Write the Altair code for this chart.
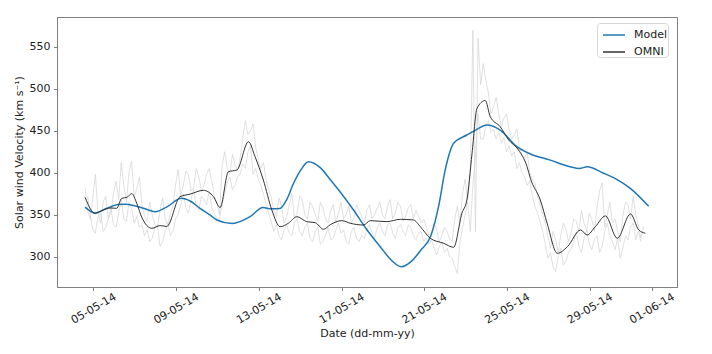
import altair as alt
import pandas as pd

# ---- data (x = day of May 2014, y = km/s) ----
model_day = [4.60, 5.08, 5.60, 6.21, 6.55, 6.94, 7.50, 7.99, 8.60, 9.25, 9.70, 10.16, 10.65,
             10.97, 11.72, 12.58, 13.20, 13.60, 14.03, 14.35, 14.68, 15.05, 15.40, 15.97,
             16.45, 17.00, 17.58, 18.20, 18.87, 19.40, 19.88, 20.40, 20.84, 21.32, 21.69,
             22.01, 22.42, 23.06, 23.50, 24.03, 24.67, 25.48, 26.13, 27.09, 28.06, 28.50,
             28.87, 29.67, 30.30, 30.96, 31.85]
model_val = [359, 352, 357, 362, 362.5, 361, 357, 353.6, 360, 369.5, 366, 357.6, 349.6,
             343.7, 339.5, 347.6, 358.5, 357, 357.5, 368, 387.4, 404, 413, 406,
             392, 375, 355.6, 333, 311.9, 296, 288, 295, 308, 325, 359.5,
             403, 435, 444.9, 451, 456.8, 450.8, 431, 422.3, 415, 407, 405,
             407, 399.3, 392, 381.4, 360]

omni_day = [4.60, 5.08, 5.48, 5.81, 6.13, 6.37, 6.62, 6.86, 7.10, 7.34, 7.83, 8.23, 8.55,
            9.19, 9.68, 10.32, 10.81, 11.13, 11.53, 11.94, 12.50, 12.82, 13.22, 13.63,
            14.03, 14.43, 14.84, 15.32, 15.73, 16.13, 16.45, 17.02, 17.42, 18.06, 18.39,
            19.19, 19.84, 20.48, 20.81, 21.29, 21.93, 22.42, 22.82, 23.06, 23.31, 23.55,
            23.95, 24.19, 24.67, 25.08, 25.56, 25.97, 26.13, 26.61, 26.94, 27.43, 27.92,
            28.56, 28.87, 29.27, 29.76, 30.33, 30.97, 31.37, 31.69]
omni_val = [370.7, 351.7, 355.6, 358, 357.6, 369.5, 370.7, 375, 363.6, 347, 333.8, 337, 336,
            371.4, 374.5, 379, 371.4, 358.5, 401.2, 403.2, 436.9, 419, 391.3, 355.6,
            335.7, 339.8, 347.6, 341.7, 340.5, 332.6, 338, 342.9, 339.8, 337.7, 342.9,
            341.7, 344.5, 343.7, 335.7, 321.9, 316, 311.2, 351.7, 367.5, 423, 476.7,
            486, 466.7, 454.8, 439, 427, 407.1, 393.3, 367.5, 339.8, 304, 311.9,
            331.8, 325.8, 335.7, 348.5, 321.9, 350.9, 331.8, 327.9]

# raw trace A: samples every 0.25 day from 4.6, plus in-between samples from 4.725
raw_a_start = 4.6
raw_a = [382, 345, 398, 340, 372, 352, 390, 412, 365, 414, 380, 362, 342, 350, 335, 370,
         338, 360, 404, 385, 398, 382, 395, 385, 405, 372, 350, 425, 398, 410, 418, 462,
         450, 430, 405, 392, 370, 348, 360, 348, 375, 352, 368, 345, 360, 342, 358, 340,
         362, 352, 345, 360, 345, 355, 340, 362, 350, 365, 345, 368, 352, 360, 348, 362,
         355, 340, 335, 328, 332, 325, 330, 318, 360, 375, 368, 570, 560, 530, 495, 478,
         470, 465, 452, 445, 430, 418, 400, 388, 362, 340, 310, 320, 325, 332, 328, 342,
         355, 330, 345, 358, 388, 350, 340, 330, 348, 362, 372, 338, 335]
raw_a_mid_start = 4.725
raw_a_mid = [355, 370,
             352, 365, 345, 375,
             368, 385, 400, 372,
             395, 348, 365, 338,
             355, 345, 352, 385,
             372, 402, 378, 405,
             378, 398, 390, 365,
             408, 405, 422, 402,
             440, 445, 458, 415,
             412, 380, 355, 370,
             340, 362, 345, 372,
             350, 365, 350, 365,
             345, 355, 340, 365,
             350, 340, 362, 348,
             355, 345, 358, 350,
             360, 345, 365, 342,
             358, 345, 348, 345,
             325, 340, 318, 335,
             322, 345, 340, 392,
             400, 330, 505, 510,
             470, 490, 455, 470,
             440, 452, 420, 425,
             392, 372, 350, 325,
             330, 305, 340, 318,
             345, 330, 340, 352,
             330, 378, 335, 365,
             345, 318, 365, 345,
             350, 322]

# raw trace B: samples every 0.25 day from 4.725, plus in-between samples from 4.85
raw_b_start = 4.725
raw_b = [372, 332, 348, 330, 345, 338, 352, 345, 365, 340, 335, 325, 318, 335, 312, 330,
         325, 345, 362, 358, 368, 360, 372, 362, 358, 345, 362, 388, 380, 395, 410, 425,
         398, 392, 375, 352, 330, 325, 332, 328, 340, 330, 335, 322, 330, 315, 325, 320,
         332, 328, 318, 330, 322, 325, 332, 328, 335, 330, 338, 328, 335, 330, 338, 325,
         328, 318, 315, 310, 312, 305, 300, 288, 318, 350, 330, 420, 440, 455, 448, 440,
         435, 425, 420, 405, 400, 385, 372, 352, 330, 298, 288, 300, 290, 305, 318, 312,
         322, 315, 320, 305, 330, 325, 308, 298, 325, 335, 320, 318]
raw_b_mid_start = 4.85
raw_b_mid = [350,
             328, 352, 335, 358,
             335, 368, 342, 358,
             348, 338, 332, 322,
             338, 318, 340, 330,
             350, 375, 352, 380,
             355, 368, 378, 352,
             345, 375, 395, 385,
             398, 405, 432, 405,
             385, 362, 342, 338,
             320, 338, 325, 345,
             325, 340, 318, 335,
             318, 335, 322, 340,
             332, 315, 335, 318,
             322, 338, 322, 340,
             325, 340, 322, 338,
             325, 335, 320, 330,
             322, 320, 302, 318,
             310, 298, 280, 335,
             365, 385, 470, 440,
             462, 452, 448, 442,
             432, 425, 412, 395,
             390, 360, 342, 315,
             305, 282, 310, 295,
             310, 330, 305, 332,
             308, 325, 312, 340,
             318, 322, 310, 320,
             340, 330]

x_ticks = [(5, 5), (5, 9), (5, 13), (5, 17), (5, 21), (5, 25), (5, 29), (6, 1)]

# ---- tables ----
base = pd.Timestamp("2014-05-01")


def to_dates(days):
    return [base + pd.to_timedelta(d - 1, unit="D") for d in days]


def grid(start, n):
    return [start + 0.25 * i for i in range(n)]


lines_df = pd.concat([
    pd.DataFrame({"date": to_dates(model_day), "v": model_val, "series": "Model"}),
    pd.DataFrame({"date": to_dates(omni_day), "v": omni_val, "series": "OMNI"}),
])
raw_df = pd.concat([
    pd.DataFrame({"date": to_dates(grid(raw_a_start, len(raw_a))), "v": raw_a, "trace": "a"}),
    pd.DataFrame({"date": to_dates(grid(raw_a_mid_start, len(raw_a_mid))), "v": raw_a_mid,
                  "trace": "a"}),
    pd.DataFrame({"date": to_dates(grid(raw_b_start, len(raw_b))), "v": raw_b, "trace": "b"}),
    pd.DataFrame({"date": to_dates(grid(raw_b_mid_start, len(raw_b_mid))), "v": raw_b_mid,
                  "trace": "b"}),
]).sort_values(["trace", "date"])

FONT = "DejaVu Sans"
x_scale = alt.Scale(domain=[alt.DateTime(year=2014, month=5, date=3, hours=5, minutes=51),
                            alt.DateTime(year=2014, month=6, date=2, hours=5, minutes=15)])
y_scale = alt.Scale(domain=[263.9, 585.4], nice=False, zero=False)

x_axis = alt.Axis(
    title="Date (dd-mm-yy)", format="%d-%m-%y", grid=False,
    values=[alt.DateTime(year=2014, month=m, date=d) for m, d in x_ticks],
    labelAngle=-30, labelAlign="center", labelBaseline="middle",
    labelPadding=18, tickSize=3.5, labelFlush=False, labelOverlap=False,
    titleY=46, titleBaseline="middle",
)
y_axis = alt.Axis(
    title="Solar wind Velocity (km s⁻¹)", values=[300, 350, 400, 450, 500, 550], grid=False,
    tickSize=3.5, labelPadding=3.5,
    titleX=-38, titleY=135, titleAngle=-90, titleAlign="center", titleBaseline="middle",
)

raw = alt.Chart(raw_df).mark_line(strokeWidth=0.7, color="#d2d2d2").encode(
    x=alt.X("date:T", scale=x_scale, axis=x_axis),
    y=alt.Y("v:Q", scale=y_scale, axis=y_axis),
    detail="trace:N",
)

main = alt.Chart(lines_df).mark_line(interpolate="monotone").encode(
    x=alt.X("date:T", scale=x_scale),
    y=alt.Y("v:Q", scale=y_scale),
    color=alt.Color(
        "series:N",
        scale=alt.Scale(domain=["Model", "OMNI"], range=["#1f77b4", "#333333"]),
        legend=alt.Legend(
            title=None, orient="none", legendX=540, legendY=6,
            symbolType="stroke", symbolSize=484, symbolStrokeWidth=1.5, symbolOffset=5,
            labelFontSize=11, labelFont=FONT, labelColor="#222222", labelOffset=8,
            labelExpr="datum.label + '\u00a0\u00a0'",
            padding=0, rowPadding=-6, strokeColor="#d8d8d8", fillColor="white",
            cornerRadius=3,
        ),
    ),
    strokeWidth=alt.condition(alt.datum.series == "Model", alt.value(1.5), alt.value(1.0)),
)

chart = alt.layer(raw, main).properties(
    width=620, height=270,
    autosize=alt.AutoSizeParams(type="none"),
    padding={"left": 49, "top": 9, "right": 27, "bottom": 59},
).configure_view(
    stroke="#808080", strokeWidth=1,
).configure_axis(
    labelFont=FONT, titleFont=FONT, labelFontSize=11, titleFontSize=11,
    labelColor="#222222", titleColor="#222222", titleFontWeight="normal",
    domainColor="#808080", tickColor="#808080", domainWidth=1,
)

chart.save("out.html", embed_options={"renderer": "svg", "actions": False})
